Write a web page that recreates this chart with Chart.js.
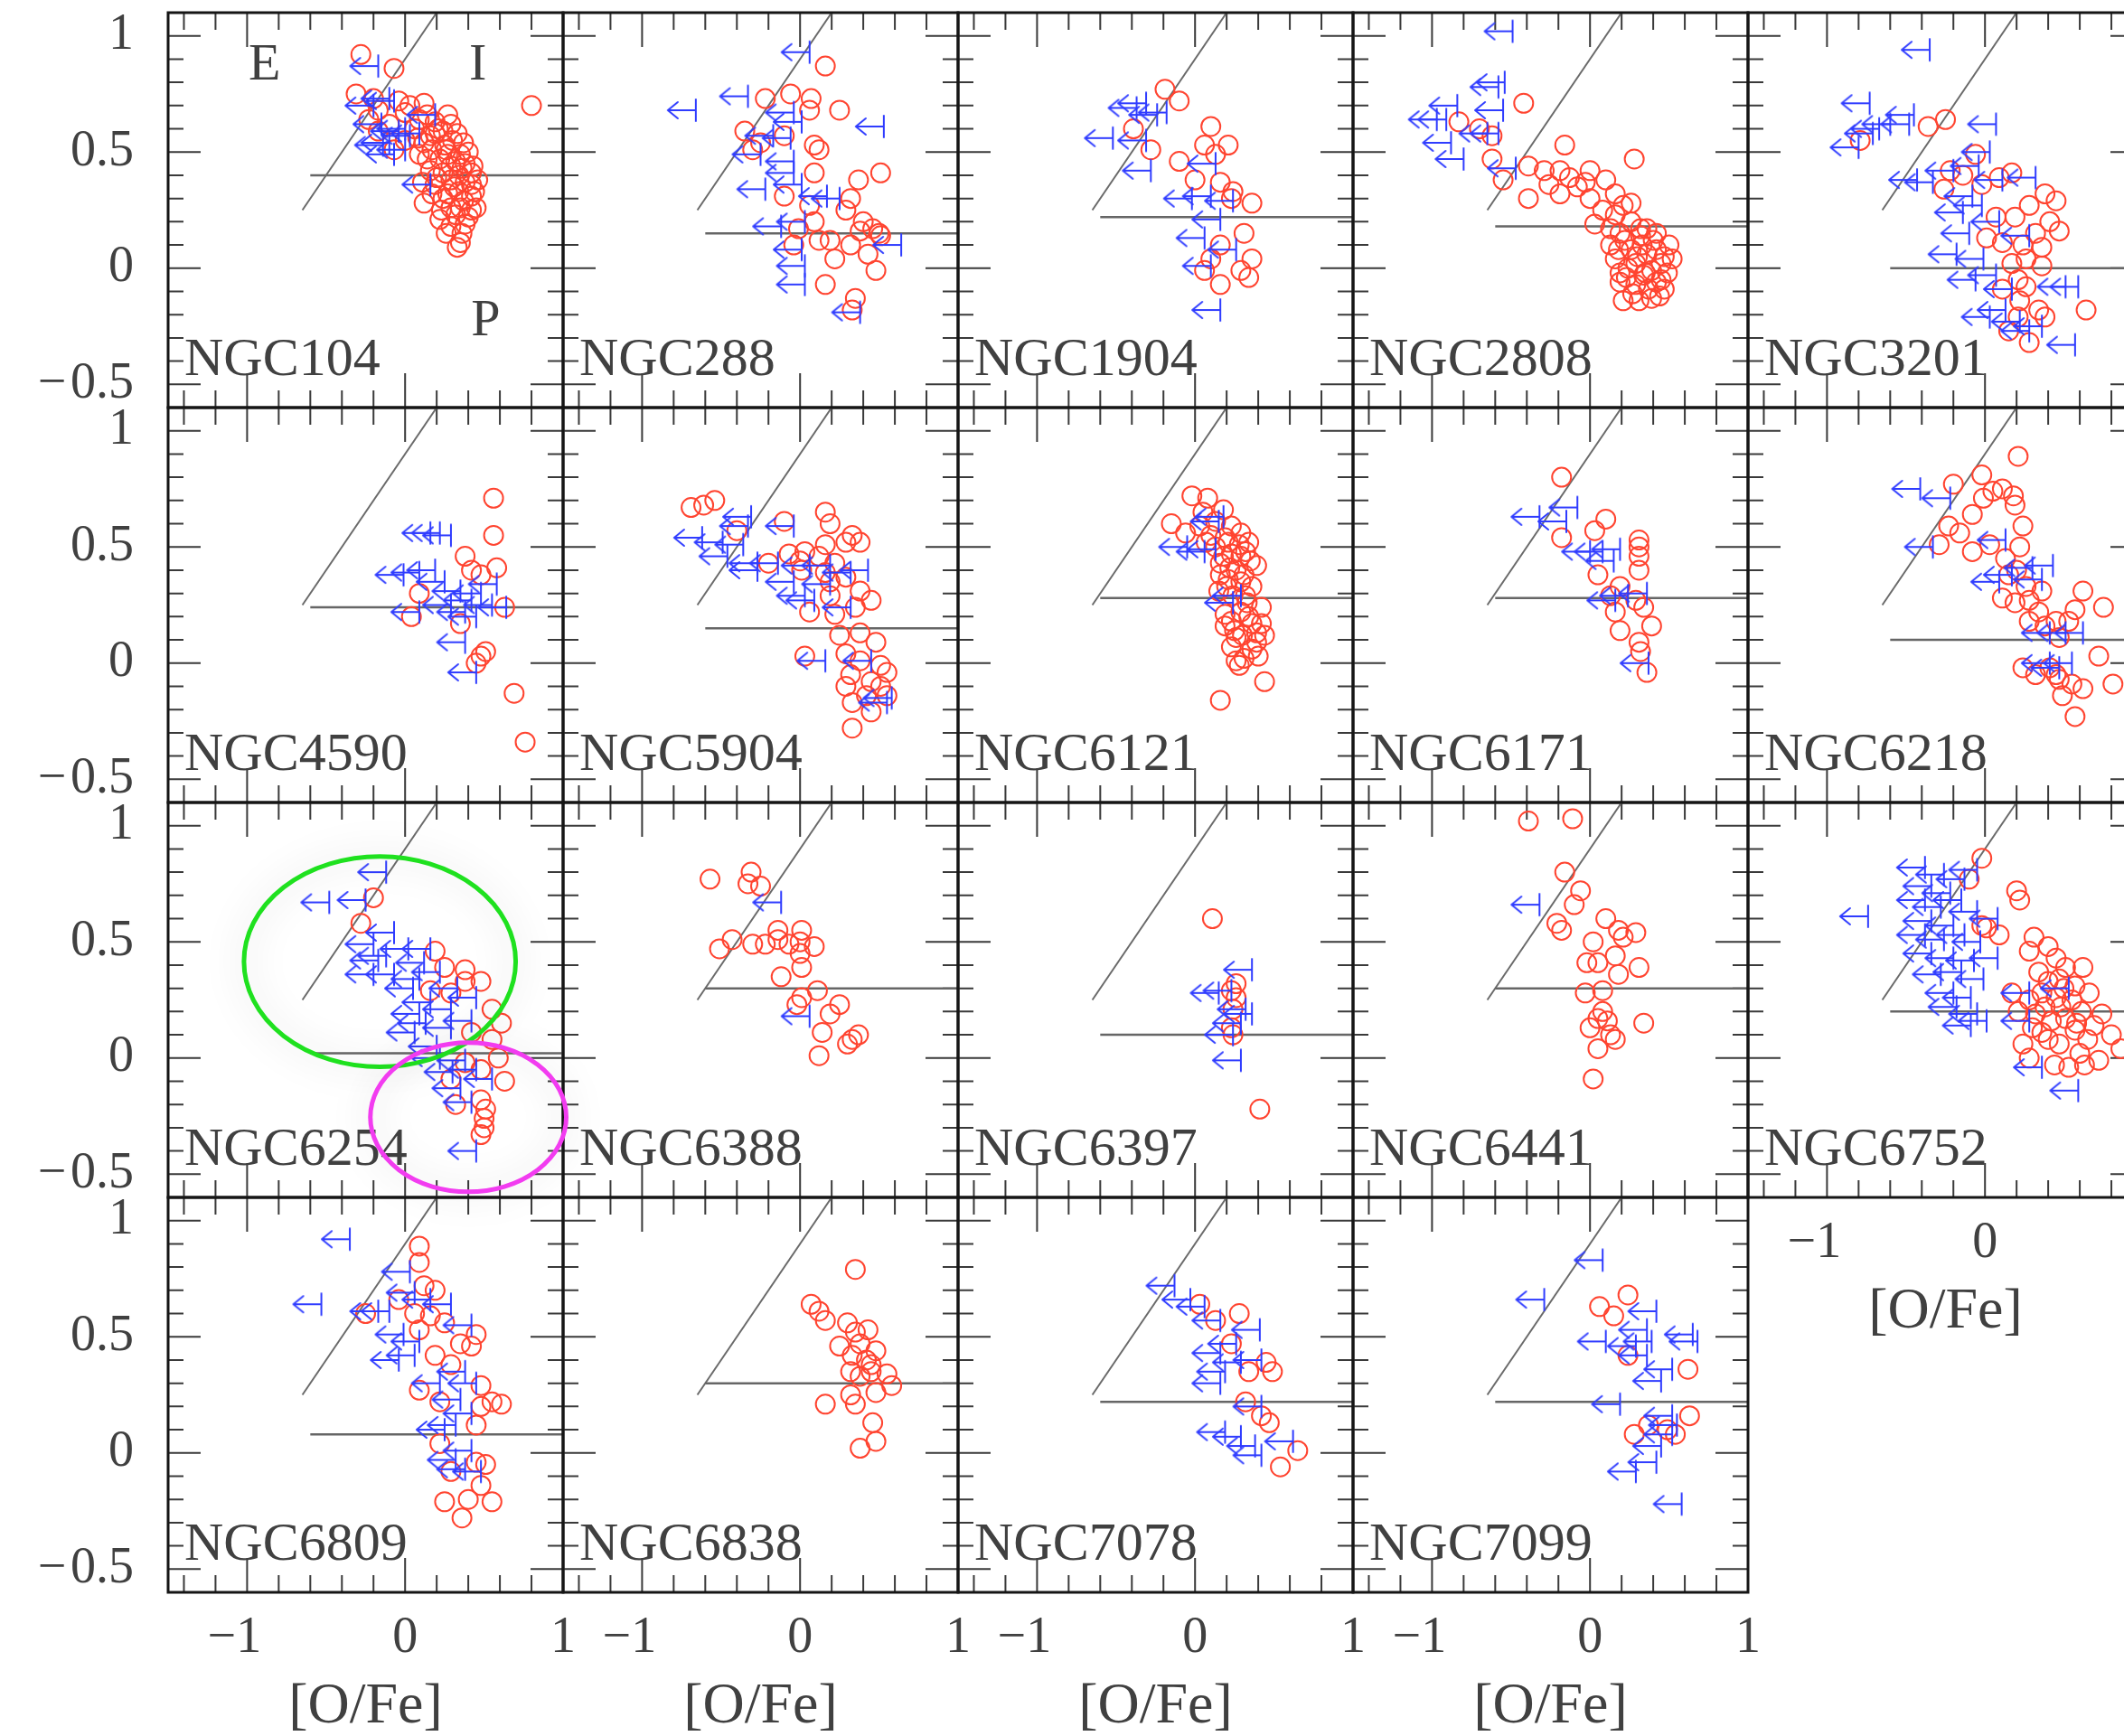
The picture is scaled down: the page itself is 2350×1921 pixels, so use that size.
<!DOCTYPE html>
<html>
<head>
<meta charset="utf-8">
<title>[Na/Fe] vs [O/Fe] for 19 globular clusters</title>
<script src="https://cdn.jsdelivr.net/npm/chart.js@4.4.1/dist/chart.umd.min.js"></script>
<style>
  html, body { margin: 0; padding: 0; background: #fff; overflow: hidden; }
  #sheet { position: relative; width: 2350px; height: 1921px; overflow: hidden; background: #fff; }
  #sheet canvas { position: absolute; }
</style>
</head>
<body>
<div id="sheet"></div>
<script>
// ---------------------------------------------------------------------------
// Data: [O/Fe], [Na/Fe] pairs per cluster.
// *Det = measured oxygen (open circles), *Lim = oxygen upper limits (arrows)
// ---------------------------------------------------------------------------
const clusterNames = ['NGC104','NGC288','NGC1904','NGC2808','NGC3201',
                      'NGC4590','NGC5904','NGC6121','NGC6171','NGC6218',
                      'NGC6254','NGC6388','NGC6397','NGC6441','NGC6752',
                      'NGC6809','NGC6838','NGC7078','NGC7099'];

// [Na/Fe] level separating the primordial (P) component
const cutLevels = [0.40,0.15,0.22,0.18,0.00, 0.24,0.15,0.28,0.28,0.10,
                   0.02,0.30,0.10,0.30,0.20, 0.08,0.30,0.22,0.22];
const cutStartX = -0.6;
const cutEndX = 1.0;

// boundary between the extreme (E) and intermediate (I) components
const edgeX = [-0.65, 0.20];
const edgeY = [0.25, 1.10];

// component labels in the first panel
const regionLetters = ['E', 'I', 'P'];
const regionX = [-0.89, 0.46, 0.51];
const regionY = [0.87, 0.87, -0.23];

// highlighted groups in NGC6254: centre and semi-axes in data units
const ringCx = [-0.16, 0.40];
const ringCy = [0.415, -0.255];
const ringRx = [0.86, 0.62];
const ringRy = [0.453, 0.321];

// axis ticks
const xTickLabels = [-1, 0, 1];
const yTickLabels = [-0.5, 0, 0.5, 1];
const xMajorTicks = [-1, 0];
const xMinorTicks = [-1.4, -1.2, -0.8, -0.6, -0.4, -0.2, 0.2, 0.4, 0.6, 0.8];
const yMajorTicks = [-0.5, 0, 0.5, 1];
const yMinorTicks = [-0.4, -0.3, -0.2, -0.1, 0.1, 0.2, 0.3, 0.4, 0.6, 0.7, 0.8, 0.9, 1.0];

const ngc104Det = [[-0.28,0.92],[-0.07,0.86],[-0.31,0.75],[0.80,0.70],[-0.20,0.73],[-0.04,0.72],[0.12,0.71],[-0.17,0.68],[0.00,0.67],[0.14,0.66],[0.29,0.62],[-0.10,0.62],[0.06,0.60],[0.19,0.58],[0.00,0.55],[0.12,0.54],[0.25,0.53],[0.35,0.49],[0.22,0.47],[0.09,0.49],[0.29,0.44],[0.38,0.45],[0.16,0.42],[0.42,0.41],[0.29,0.38],[0.38,0.37],[0.19,0.36],[0.34,0.33],[0.42,0.31],[0.12,0.28],[0.23,0.25],[0.42,0.25],[0.22,0.21],[0.38,0.19],[0.29,0.18],[0.35,0.11],[0.33,0.09],[0.45,0.26],[0.03,0.70],[0.09,0.64],[0.19,0.63],[0.24,0.59],[0.16,0.57],[0.30,0.55],[0.37,0.54],[0.27,0.49],[0.17,0.51],[0.32,0.46],[0.24,0.41],[0.34,0.40],[0.42,0.36],[0.27,0.32],[0.37,0.29],[0.17,0.32],[0.29,0.26],[0.32,0.23],[-0.23,0.64],[-0.17,0.59],[-0.07,0.51],[0.21,0.60],[0.33,0.58],[0.26,0.51],[0.40,0.50],[0.14,0.47],[0.36,0.43],[0.20,0.39],[0.31,0.35],[0.44,0.33],[0.24,0.30],[0.40,0.22],[0.26,0.15],[0.36,0.15],[0.43,0.44],[0.08,0.56],[0.11,0.37],[0.46,0.38],[0.27,0.66],[0.35,0.26]];
const ngc104Lim = [[-0.17,0.87],[-0.10,0.73],[-0.07,0.72],[0.00,0.60],[-0.04,0.59],[-0.10,0.54],[-0.14,0.53],[0.00,0.51],[-0.07,0.49],[0.19,0.66],[0.16,0.36],[0.03,0.57],[0.09,0.58],[-0.20,0.70],[-0.15,0.62]];

const ngc288Det = [[0.16,0.87],[-0.22,0.73],[-0.06,0.75],[0.07,0.73],[0.25,0.68],[0.06,0.68],[-0.35,0.59],[-0.25,0.54],[-0.30,0.51],[-0.10,0.57],[0.09,0.53],[0.12,0.51],[0.09,0.41],[0.37,0.38],[0.51,0.41],[-0.10,0.31],[0.32,0.30],[0.06,0.27],[0.29,0.25],[0.09,0.20],[0.40,0.20],[0.46,0.17],[0.50,0.15],[0.19,0.12],[0.32,0.10],[-0.04,0.10],[0.22,0.04],[0.43,0.06],[0.51,0.14],[0.38,0.16],[0.48,-0.01],[0.16,-0.07],[0.35,-0.13],[0.33,-0.18],[-0.01,0.17],[0.12,0.12]];
const ngc288Lim = [[0.06,0.93],[-0.33,0.74],[-0.66,0.68],[0.53,0.61],[-0.04,0.67],[0.01,0.63],[-0.17,0.57],[-0.06,0.56],[-0.25,0.49],[-0.04,0.46],[-0.22,0.34],[0.01,0.36],[0.17,0.31],[0.25,0.30],[-0.12,0.18],[0.03,0.20],[0.01,0.08],[0.03,0.01],[0.03,-0.07],[0.64,0.10],[0.38,-0.19],[-0.04,0.41]];

const ngc1904Det = [[-0.19,0.77],[-0.10,0.72],[-0.39,0.60],[-0.28,0.51],[0.10,0.61],[0.21,0.53],[0.06,0.53],[-0.10,0.46],[0.13,0.49],[0.00,0.38],[0.16,0.37],[0.24,0.33],[0.36,0.28],[0.23,0.30],[0.31,0.15],[0.16,0.10],[0.36,0.04],[0.06,-0.01],[0.16,-0.07],[0.34,-0.04],[0.29,-0.01],[0.10,0.04]];
const ngc1904Lim = [[-0.37,0.69],[-0.31,0.71],[-0.18,0.67],[-0.24,0.66],[-0.52,0.56],[-0.31,0.55],[-0.28,0.42],[0.13,0.45],[-0.02,0.30],[0.10,0.31],[0.24,0.29],[0.16,0.21],[0.06,0.13],[0.26,0.08],[0.10,0.01],[0.16,-0.18]];

const ngc2808Det = [[-0.42,0.71],[-0.83,0.63],[-0.70,0.60],[-0.62,0.57],[-0.62,0.47],[-0.16,0.53],[0.28,0.47],[-0.55,0.38],[-0.39,0.44],[-0.29,0.42],[-0.19,0.42],[-0.13,0.39],[0.00,0.42],[0.10,0.38],[-0.39,0.30],[-0.19,0.32],[0.00,0.30],[0.16,0.32],[0.26,0.28],[0.03,0.19],[0.16,0.23],[0.19,0.15],[0.32,0.14],[0.42,0.15],[0.26,0.08],[0.36,0.06],[0.52,0.04],[0.19,-0.02],[0.29,0.02],[0.39,-0.01],[0.45,-0.05],[0.29,-0.07],[0.39,-0.13],[0.21,-0.14],[0.47,-0.09],[0.16,0.04],[0.13,0.10],[0.33,0.10],[0.42,0.08],[0.24,0.00],[0.34,-0.03],[0.19,-0.06],[0.37,-0.09],[0.31,-0.14],[0.13,0.17],[0.26,0.20],[0.36,0.17],[0.50,0.10],[0.45,0.02],[-0.03,0.37],[-0.26,0.36],[0.22,0.12],[0.40,0.12],[0.30,0.05],[0.47,0.05],[0.23,-0.04],[0.42,-0.06],[0.27,-0.11],[0.35,-0.02],[0.49,-0.02],[0.18,0.08],[0.44,-0.12],[0.32,0.17],[0.08,0.25],[0.21,0.27],[-0.08,0.35]];
const ngc2808Lim = [[-0.49,1.02],[-0.54,0.80],[-0.58,0.78],[-0.55,0.68],[-0.84,0.70],[-0.91,0.64],[-0.97,0.64],[-0.88,0.54],[-0.80,0.47],[-0.58,0.58],[-0.65,0.58],[-0.47,0.43]];

const ngc3201Det = [[-0.79,0.55],[-0.36,0.61],[-0.25,0.64],[-0.22,0.42],[-0.26,0.34],[-0.06,0.49],[0.17,0.41],[0.09,0.39],[0.38,0.32],[0.45,0.29],[0.41,0.20],[0.47,0.16],[0.28,0.27],[0.19,0.22],[0.01,0.13],[0.11,0.11],[0.24,0.10],[0.36,0.01],[0.17,0.02],[0.21,-0.05],[0.26,-0.08],[0.11,-0.09],[0.34,-0.18],[0.64,-0.18],[0.21,-0.21],[0.28,-0.32],[0.38,-0.21],[0.07,0.22],[-0.02,0.36],[-0.14,0.40],[0.32,0.15],[0.36,0.09],[0.26,0.04],[0.22,-0.14],[0.15,-0.27]];
const ngc3201Lim = [[-0.35,0.94],[-0.73,0.71],[-0.45,0.66],[-0.60,0.62],[-0.67,0.60],[-0.48,0.62],[-0.80,0.52],[-0.71,0.58],[0.07,0.62],[0.03,0.50],[-0.43,0.38],[-0.33,0.37],[-0.20,0.42],[-0.04,0.44],[0.32,0.39],[0.11,0.38],[-0.08,0.31],[-0.14,0.24],[-0.02,0.27],[0.09,0.20],[-0.10,0.15],[0.28,0.14],[-0.18,0.06],[-0.01,0.04],[-0.06,-0.05],[0.07,-0.03],[0.13,-0.18],[0.22,-0.23],[0.36,-0.25],[0.59,-0.08],[0.51,-0.08],[0.57,-0.33],[0.28,-0.27],[0.03,-0.21],[0.17,-0.09]];

const ngc4590Det = [[0.56,0.71],[0.56,0.55],[0.58,0.41],[0.38,0.46],[0.09,0.30],[0.04,0.20],[0.35,0.17],[0.63,0.24],[0.51,0.05],[0.48,0.03],[0.45,0.00],[0.69,-0.13],[0.76,-0.34],[0.48,0.38],[0.42,0.40]];
const ngc4590Lim = [[0.16,0.56],[0.29,0.55],[0.22,0.56],[-0.01,0.38],[0.09,0.39],[0.19,0.40],[0.25,0.35],[0.35,0.31],[0.48,0.30],[0.42,0.27],[0.55,0.25],[0.64,0.24],[0.29,0.25],[0.38,0.22],[0.09,0.22],[0.45,0.20],[0.38,0.09],[0.45,-0.04],[0.58,0.34]];

const ngc5904Det = [[-0.69,0.67],[-0.61,0.68],[-0.54,0.70],[0.16,0.65],[0.19,0.60],[-0.10,0.61],[-0.40,0.57],[0.33,0.55],[0.38,0.52],[0.16,0.51],[0.03,0.48],[-0.07,0.47],[-0.20,0.43],[0.12,0.46],[0.22,0.43],[0.01,0.40],[0.16,0.39],[0.29,0.37],[0.38,0.31],[0.45,0.27],[0.19,0.29],[0.06,0.22],[0.22,0.21],[0.35,0.24],[0.25,0.12],[0.38,0.13],[0.48,0.09],[0.03,0.03],[0.29,0.04],[0.38,0.01],[0.51,-0.01],[0.55,-0.04],[0.32,-0.05],[0.45,-0.08],[0.29,-0.10],[0.51,-0.10],[0.42,-0.14],[0.33,-0.17],[0.45,-0.21],[0.33,-0.28],[0.55,-0.14],[0.19,0.35],[0.29,0.52],[0.00,0.44]];
const ngc5904Lim = [[-0.31,0.63],[-0.33,0.59],[-0.04,0.59],[-0.62,0.54],[-0.49,0.52],[-0.36,0.51],[-0.46,0.46],[-0.27,0.43],[-0.14,0.43],[0.06,0.42],[0.19,0.42],[0.43,0.40],[0.32,0.39],[-0.27,0.40],[0.03,0.29],[0.09,0.27],[0.32,0.24],[0.16,0.01],[0.45,0.01],[0.58,-0.15],[0.55,-0.17],[-0.04,0.35],[0.19,0.34]];

const ngc6121Det = [[-0.02,0.72],[0.08,0.71],[-0.15,0.60],[-0.06,0.56],[0.03,0.59],[0.13,0.61],[0.23,0.59],[0.29,0.56],[0.10,0.55],[0.19,0.54],[0.28,0.51],[0.13,0.50],[0.23,0.47],[0.32,0.48],[0.39,0.42],[0.16,0.43],[0.26,0.40],[0.16,0.38],[0.29,0.35],[0.15,0.31],[0.36,0.33],[0.24,0.29],[0.42,0.24],[0.29,0.22],[0.23,0.18],[0.36,0.17],[0.19,0.16],[0.42,0.17],[0.39,0.13],[0.26,0.11],[0.23,0.07],[0.39,0.09],[0.40,0.03],[0.28,-0.01],[0.26,0.01],[0.44,-0.08],[0.16,-0.16],[0.32,0.29],[0.29,0.46],[0.21,0.36],[0.05,0.65],[0.18,0.66],[0.07,0.52],[0.21,0.52],[0.34,0.52],[0.18,0.46],[0.35,0.44],[0.22,0.41],[0.31,0.38],[0.20,0.33],[0.33,0.26],[0.19,0.21],[0.34,0.20],[0.30,0.12],[0.36,0.06],[0.31,0.02],[0.25,0.14],[0.44,0.12]];
const ngc6121Lim = [[0.18,0.63],[0.15,0.61],[-0.05,0.50],[0.13,0.49],[0.06,0.48],[0.29,0.29],[0.24,0.26]];

const ngc6171Det = [[-0.18,0.80],[0.10,0.62],[0.03,0.57],[-0.18,0.54],[0.31,0.53],[0.31,0.50],[0.31,0.46],[0.31,0.40],[0.05,0.38],[0.19,0.33],[0.13,0.29],[0.29,0.27],[0.16,0.22],[0.34,0.24],[0.39,0.16],[0.19,0.14],[0.31,0.09],[0.32,0.05],[0.36,-0.04]];
const ngc6171Lim = [[-0.08,0.67],[-0.32,0.63],[-0.15,0.61],[0.08,0.48],[0.19,0.49],[0.00,0.48],[0.15,0.44],[0.36,0.30],[0.24,0.29],[0.16,0.27],[0.37,0.00]];

const ngc6218Det = [[0.21,0.89],[-0.20,0.77],[-0.02,0.81],[0.05,0.74],[0.11,0.75],[0.18,0.72],[0.19,0.68],[-0.01,0.71],[-0.08,0.64],[-0.23,0.59],[-0.16,0.56],[-0.29,0.51],[-0.08,0.48],[0.03,0.51],[0.24,0.59],[0.13,0.45],[0.22,0.50],[0.15,0.38],[0.20,0.40],[0.26,0.33],[0.11,0.28],[0.19,0.26],[0.28,0.27],[0.36,0.31],[0.34,0.22],[0.28,0.18],[0.38,0.16],[0.62,0.31],[0.57,0.23],[0.75,0.24],[0.45,0.18],[0.53,0.18],[0.47,0.11],[0.72,0.03],[0.24,-0.02],[0.32,-0.05],[0.41,-0.02],[0.47,-0.07],[0.55,-0.09],[0.62,-0.11],[0.81,-0.09],[0.49,-0.14],[0.57,-0.23],[0.45,-0.05]];
const ngc6218Lim = [[-0.41,0.75],[-0.22,0.71],[-0.33,0.50],[0.13,0.53],[0.09,0.35],[0.17,0.38],[0.30,0.41],[0.43,0.42],[0.36,0.36],[0.62,0.13],[0.51,0.13],[0.41,0.13],[0.55,0.00],[0.47,-0.02],[0.41,0.00]];

const ngc6254Det = [[-0.20,0.69],[-0.28,0.58],[0.19,0.46],[0.38,0.38],[0.48,0.33],[0.38,0.33],[0.29,0.28],[0.55,0.21],[0.61,0.15],[0.42,0.11],[0.55,0.08],[0.59,0.00],[0.38,-0.02],[0.48,-0.05],[0.63,-0.10],[0.29,-0.09],[0.32,-0.20],[0.48,-0.18],[0.51,-0.22],[0.50,-0.26],[0.50,-0.30],[0.48,-0.33],[0.16,0.29],[0.25,0.39]];
const ngc6254Lim = [[-0.12,0.80],[-0.48,0.67],[-0.25,0.68],[-0.07,0.54],[-0.20,0.49],[-0.17,0.42],[-0.20,0.36],[-0.07,0.36],[0.16,0.47],[0.12,0.41],[0.22,0.37],[0.09,0.34],[0.16,0.24],[0.29,0.21],[0.45,0.26],[0.09,0.19],[0.06,0.11],[0.29,0.13],[0.42,0.16],[0.22,0.00],[0.38,-0.01],[0.45,-0.05],[0.55,-0.09],[0.35,-0.13],[0.42,-0.19],[0.45,-0.40],[-0.12,0.44],[0.02,0.47],[0.05,0.30],[0.20,0.05],[0.30,-0.06],[0.13,0.15],[0.33,0.30]];

const ngc6388Det = [[-0.57,0.77],[-0.31,0.80],[-0.33,0.75],[-0.25,0.74],[-0.43,0.51],[-0.51,0.47],[-0.30,0.49],[-0.22,0.49],[-0.14,0.55],[-0.14,0.51],[0.01,0.55],[0.00,0.50],[0.09,0.48],[0.00,0.45],[0.01,0.39],[-0.12,0.35],[0.11,0.29],[0.01,0.26],[-0.02,0.23],[0.25,0.23],[0.19,0.19],[0.14,0.11],[0.33,0.08],[0.30,0.06],[0.37,0.10],[0.12,0.01],[-0.07,0.49]];
const ngc6388Lim = [[-0.12,0.67],[0.06,0.18]];

const ngc6397Det = [[0.11,0.60],[0.23,0.29],[0.26,0.26],[0.24,0.21],[0.23,0.13],[0.24,0.10],[0.41,-0.22],[0.26,0.32]];
const ngc6397Lim = [[0.36,0.38],[0.15,0.28],[0.23,0.29],[0.32,0.21],[0.29,0.15],[0.24,0.10],[0.29,-0.01],[0.36,0.19]];

const ngc6441Det = [[-0.39,1.02],[-0.11,1.03],[-0.16,0.80],[-0.06,0.72],[-0.10,0.66],[-0.21,0.58],[-0.18,0.55],[0.10,0.60],[0.18,0.55],[0.29,0.54],[0.21,0.52],[0.02,0.50],[0.16,0.44],[-0.02,0.41],[0.05,0.41],[0.31,0.39],[0.18,0.36],[0.08,0.29],[-0.03,0.28],[0.08,0.20],[0.05,0.17],[0.11,0.16],[0.34,0.15],[0.00,0.13],[0.13,0.10],[0.16,0.08],[0.05,0.04],[0.02,-0.09]];
const ngc6441Lim = [[-0.32,0.66]];

const ngc6752Det = [[-0.02,0.86],[-0.10,0.77],[0.20,0.72],[0.22,0.68],[-0.02,0.57],[0.01,0.56],[0.09,0.53],[0.31,0.52],[0.40,0.48],[0.28,0.46],[0.45,0.43],[0.51,0.39],[0.62,0.39],[0.34,0.37],[0.40,0.33],[0.47,0.34],[0.57,0.31],[0.17,0.28],[0.28,0.25],[0.36,0.28],[0.45,0.26],[0.55,0.25],[0.61,0.20],[0.21,0.20],[0.32,0.19],[0.42,0.16],[0.51,0.17],[0.69,0.14],[0.36,0.11],[0.47,0.06],[0.40,0.08],[0.65,0.08],[0.28,0.00],[0.44,-0.03],[0.53,-0.04],[0.63,-0.03],[0.72,-0.01],[0.57,0.12],[0.24,0.06],[0.50,0.30],[0.66,0.28],[0.74,0.19],[0.80,0.10],[0.86,0.04],[0.60,0.02],[0.38,0.22],[0.48,0.22],[0.58,0.15],[0.30,0.13]];
const ngc6752Lim = [[-0.74,0.61],[-0.38,0.82],[-0.26,0.79],[-0.05,0.81],[-0.13,0.77],[-0.34,0.74],[-0.22,0.71],[-0.38,0.68],[-0.15,0.68],[-0.28,0.65],[-0.05,0.63],[0.08,0.60],[-0.34,0.59],[-0.20,0.57],[-0.38,0.53],[-0.26,0.51],[-0.13,0.53],[-0.03,0.50],[-0.34,0.45],[-0.20,0.43],[-0.07,0.42],[0.08,0.43],[-0.28,0.36],[-0.15,0.37],[-0.01,0.34],[-0.20,0.28],[-0.09,0.26],[-0.18,0.22],[-0.05,0.19],[0.01,0.16],[-0.09,0.14],[0.28,0.16],[0.53,0.30],[0.36,-0.04],[0.59,-0.14],[0.28,0.28]];

const ngc6809Det = [[0.09,0.89],[0.09,0.82],[0.12,0.72],[0.19,0.70],[-0.25,0.60],[-0.04,0.66],[0.06,0.60],[0.16,0.59],[0.25,0.56],[0.09,0.53],[0.45,0.51],[0.35,0.47],[0.42,0.46],[0.19,0.42],[0.29,0.38],[0.09,0.27],[0.22,0.22],[0.48,0.29],[0.55,0.22],[0.61,0.21],[0.48,0.20],[0.45,0.12],[0.22,0.04],[0.45,-0.04],[0.51,-0.05],[0.29,-0.08],[0.25,-0.21],[0.40,-0.20],[0.55,-0.21],[0.36,-0.28],[0.48,-0.14]];
const ngc6809Lim = [[-0.35,0.92],[-0.53,0.64],[0.03,0.78],[-0.17,0.61],[-0.10,0.61],[0.06,0.69],[0.16,0.66],[0.29,0.64],[-0.01,0.51],[0.09,0.48],[0.06,0.42],[-0.04,0.40],[0.42,0.55],[0.22,0.30],[0.38,0.35],[0.45,0.30],[0.35,0.23],[0.42,0.17],[0.25,0.10],[0.32,0.12],[0.42,0.01],[0.32,-0.03],[0.48,-0.08],[0.38,-0.07]];

const ngc6838Det = [[0.35,0.79],[0.07,0.64],[0.12,0.61],[0.16,0.57],[0.30,0.56],[0.43,0.53],[0.35,0.52],[0.25,0.46],[0.38,0.47],[0.48,0.44],[0.33,0.42],[0.42,0.40],[0.32,0.35],[0.45,0.35],[0.55,0.34],[0.38,0.33],[0.58,0.29],[0.32,0.25],[0.48,0.26],[0.16,0.21],[0.35,0.21],[0.46,0.13],[0.48,0.05],[0.38,0.02],[0.45,0.38]];
const ngc6838Lim = [];

const ngc7078Det = [[0.03,0.64],[0.13,0.57],[0.28,0.60],[0.23,0.47],[0.45,0.39],[0.49,0.35],[0.34,0.35],[0.32,0.22],[0.42,0.16],[0.47,0.13],[0.65,0.01],[0.54,-0.06]];
const ngc7078Lim = [[-0.13,0.72],[-0.03,0.66],[0.06,0.63],[0.16,0.57],[0.41,0.53],[0.26,0.47],[0.16,0.43],[0.42,0.40],[0.29,0.39],[0.19,0.35],[0.16,0.30],[0.42,0.20],[0.19,0.09],[0.29,0.07],[0.38,0.03],[0.62,0.05],[0.42,-0.01]];

const ngc7099Det = [[0.06,0.63],[0.24,0.68],[0.15,0.59],[0.24,0.42],[0.62,0.36],[0.63,0.16],[0.37,0.12],[0.28,0.08],[0.49,0.10],[0.54,0.08]];
const ngc7099Lim = [[0.08,0.83],[-0.29,0.66],[0.42,0.61],[0.10,0.48],[0.36,0.53],[0.39,0.48],[0.29,0.46],[0.65,0.51],[0.68,0.48],[0.36,0.42],[0.52,0.36],[0.45,0.31],[0.19,0.21],[0.52,0.16],[0.55,0.12],[0.52,0.08],[0.45,0.03],[0.42,-0.04],[0.29,-0.08],[0.58,-0.22]];

const detections = [ngc104Det, ngc288Det, ngc1904Det, ngc2808Det, ngc3201Det,
                    ngc4590Det, ngc5904Det, ngc6121Det, ngc6171Det, ngc6218Det,
                    ngc6254Det, ngc6388Det, ngc6397Det, ngc6441Det, ngc6752Det,
                    ngc6809Det, ngc6838Det, ngc7078Det, ngc7099Det];
const upperLimits = [ngc104Lim, ngc288Lim, ngc1904Lim, ngc2808Lim, ngc3201Lim,
                     ngc4590Lim, ngc5904Lim, ngc6121Lim, ngc6171Lim, ngc6218Lim,
                     ngc6254Lim, ngc6388Lim, ngc6397Lim, ngc6441Lim, ngc6752Lim,
                     ngc6809Lim, ngc6838Lim, ngc7078Lim, ngc7099Lim];

// ---------------------------------------------------------------------------
// Layout and style
// ---------------------------------------------------------------------------
const PANEL = 437;               // plot box size in px
const COL0 = 186, ROW0 = 14;     // top-left corner of the first box
const NCOL = 5;
const M = { l: 190, t: 80, r: 60, b: 170 };   // canvas margin round each box
const FONT = "'Liberation Serif', 'Times New Roman', serif";
const INK = '#404040';
const DET_COLOR = '#ff4430';
const LIM_COLOR = '#2f3cff';
const RING_COLORS = ['#1fe11f', '#f23cf0'];

Chart.defaults.font.family = FONT;
Chart.defaults.color = INK;

// upper-limit marker: vertical bar at the value with an arrow pointing left
function makeLimitMarker() {
  const A = 32, H = 24;
  const c = document.createElement('canvas');
  c.width = 2 * A + 4;
  c.height = H + 4;
  const g = c.getContext('2d');
  const cx = A + 2, cy = c.height / 2;
  g.strokeStyle = LIM_COLOR;
  g.lineWidth = 2;
  g.lineCap = 'round';
  g.lineJoin = 'round';
  g.beginPath();
  g.moveTo(cx, cy - H / 2); g.lineTo(cx, cy + H / 2);
  g.moveTo(cx, cy); g.lineTo(cx - A + 1, cy);
  g.moveTo(cx - A + 12, cy - 9); g.lineTo(cx - A + 1, cy); g.lineTo(cx - A + 12, cy + 9);
  g.stroke();
  return c;
}
const limitMarker = makeLimitMarker();

// tick label text: true minus sign; x labels keep the digit near the tick
const fmtY = v => (v < 0 ? '\u2212\u200A' : '') + String(Math.abs(v));
const fmtX = v => (v < 0 ? '\u2212' + String(Math.abs(v)) + '\u2002' : String(v));

// frame, inward ticks, cluster name and annotations of each box
const panelDecor = {
  id: 'panelDecor',
  beforeDatasetsDraw(chart, args, o) {
    const { ctx, chartArea: a, scales: { x, y } } = chart;
    ctx.save();
    ctx.strokeStyle = '#3a3a3a';
    ctx.lineWidth = 2;
    ctx.beginPath();
    const vTick = (v, len) => {
      const p = x.getPixelForValue(v);
      ctx.moveTo(p, a.top); ctx.lineTo(p, a.top + len);
      ctx.moveTo(p, a.bottom); ctx.lineTo(p, a.bottom - len);
    };
    const hTick = (v, len) => {
      const p = y.getPixelForValue(v);
      ctx.moveTo(a.left, p); ctx.lineTo(a.left + len, p);
      ctx.moveTo(a.right, p); ctx.lineTo(a.right - len, p);
    };
    xMinorTicks.forEach(v => vTick(v, 19));
    xMajorTicks.forEach(v => vTick(v, 38));
    yMinorTicks.forEach(v => hTick(v, 17));
    yMajorTicks.forEach(v => hTick(v, 36));
    ctx.stroke();
    ctx.restore();
  },
  afterDraw(chart, args, o) {
    const { ctx, chartArea: a, scales: { x, y } } = chart;
    ctx.save();
    ctx.strokeStyle = '#151515';
    ctx.lineWidth = 3;
    ctx.strokeRect(a.left, a.top, a.right - a.left, a.bottom - a.top);

    ctx.fillStyle = INK;
    ctx.font = `60px ${FONT}`;
    ctx.textAlign = 'left';
    ctx.textBaseline = 'alphabetic';
    ctx.fillText(o.name, a.left + 18, a.bottom - 36);

    if (o.letters) {
      ctx.font = `58px ${FONT}`;
      ctx.textAlign = 'center';
      ctx.textBaseline = 'middle';
      regionLetters.forEach((t, i) => {
        ctx.fillText(t, x.getPixelForValue(regionX[i]), y.getPixelForValue(regionY[i]));
      });
    }

    if (o.rings) {
      ringCx.forEach((cxv, i) => {
        const px = x.getPixelForValue(cxv);
        const py = y.getPixelForValue(ringCy[i]);
        const rx = Math.abs(x.getPixelForValue(cxv + ringRx[i]) - px);
        const ry = Math.abs(y.getPixelForValue(ringCy[i] + ringRy[i]) - py);
        ctx.save();
        ctx.shadowColor = 'rgba(0,0,0,0.22)';
        ctx.shadowBlur = 40;
        ctx.strokeStyle = RING_COLORS[i];
        ctx.lineWidth = 5;
        ctx.beginPath();
        ctx.ellipse(px, py, rx, ry, 0, 0, Math.PI * 2);
        ctx.stroke();
        ctx.restore();
      });
    }
    ctx.restore();
  }
};

const sheet = document.getElementById('sheet');
const toXY = arr => arr.map(([x, y]) => ({ x, y }));

clusterNames.forEach((name, i) => {
  const row = Math.floor(i / NCOL), col = i % NCOL;
  const left = COL0 + col * PANEL, top = ROW0 + row * PANEL;
  const showX = row === 3 || (col === 4 && row === 2);
  const showY = col === 0;

  const canvas = document.createElement('canvas');
  const W = M.l + PANEL + M.r, H = M.t + PANEL + M.b;
  canvas.width = W; canvas.height = H;
  canvas.style.width = W + 'px'; canvas.style.height = H + 'px';
  canvas.style.left = (left - M.l) + 'px';
  canvas.style.top = (top - M.t) + 'px';
  if (name === 'NGC6254') canvas.style.zIndex = 5;
  sheet.appendChild(canvas);

  new Chart(canvas, {
    type: 'scatter',
    data: {
      datasets: [
        {
          data: edgeX.map((x, k) => ({ x, y: edgeY[k] })),
          showLine: true, pointRadius: 0, borderColor: '#6a6a6a', borderWidth: 2, order: 4
        },
        {
          data: [{ x: cutStartX, y: cutLevels[i] }, { x: cutEndX, y: cutLevels[i] }],
          showLine: true, pointRadius: 0, borderColor: '#666', borderWidth: 2.5, order: 3
        },
        {
          data: toXY(detections[i]),
          pointStyle: 'circle', pointRadius: 10.5, pointBorderWidth: 2,
          pointBorderColor: DET_COLOR, pointBackgroundColor: 'rgba(0,0,0,0)', order: 2
        },
        {
          data: toXY(upperLimits[i]),
          pointStyle: limitMarker, pointRadius: 12, order: 1
        }
      ]
    },
    options: {
      responsive: false,
      animation: false,
      devicePixelRatio: 1,
      events: [],
      layout: { padding: { left: 0, top: M.t, right: M.r, bottom: 0 } },
      plugins: {
        legend: { display: false },
        tooltip: { enabled: false },
        panelDecor: { name, letters: i === 0, rings: name === 'NGC6254' }
      },
      scales: {
        x: {
          type: 'linear', min: -1.5, max: 1.0, position: 'bottom',
          grid: { display: false, drawTicks: false },
          border: { display: false },
          afterBuildTicks: s => { s.ticks = xTickLabels.map(v => ({ value: v })); },
          afterFit: s => { s.height = M.b; },
          ticks: {
            display: showX, autoSkip: false, maxRotation: 0, padding: 18,
            font: { size: 56 }, color: INK, callback: v => fmtX(v)
          },
          title: {
            display: showX, text: '[O/Fe]', color: INK,
            font: { size: 64 }, padding: { top: 0, bottom: 4 }
          }
        },
        y: {
          type: 'linear', min: -0.6, max: 1.1, position: 'left',
          grid: { display: false, drawTicks: false },
          border: { display: false },
          afterBuildTicks: s => { s.ticks = yTickLabels.map(v => ({ value: v })); },
          afterFit: s => { s.width = M.l; },
          ticks: {
            display: showY, autoSkip: false, padding: 38,
            font: { size: 56 }, color: INK, callback: v => fmtY(v)
          }
        }
      }
    },
    plugins: [panelDecor]
  });
});
</script>
</body>
</html>
